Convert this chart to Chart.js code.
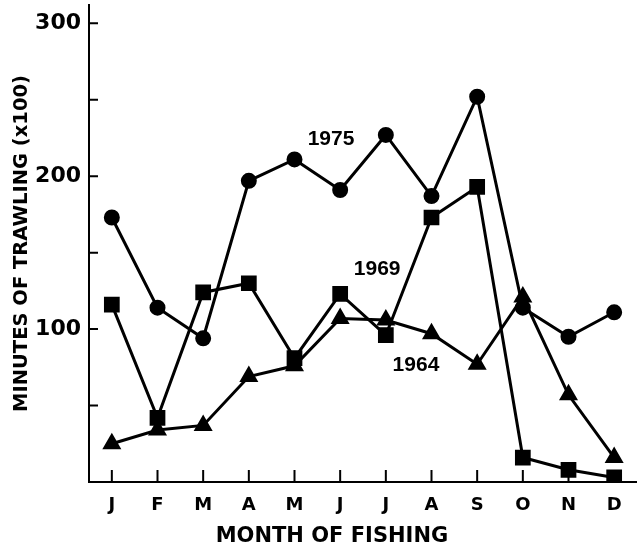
<!DOCTYPE html>
<html>
<head>
  <title>Minutes of Trawling by Month</title>
  <script src="https://cdn.jsdelivr.net/npm/chart.js@4/dist/chart.umd.min.js"></script>
  <style>
    * {
      margin: 0;
      padding: 0;
      box-sizing: border-box;
    }

    body {
      background: #ffffff;
      overflow: hidden;
    }

    .chart-box {
      position: relative;
      width: 637px;
      height: 550px;
    }
  </style>
</head>
<body>
<div class="chart-box">
  <canvas id="trawlChart"></canvas>
</div>

<script>
  // months on the x axis
  const months = ['J', 'F', 'M', 'A', 'M', 'J', 'J', 'A', 'S', 'O', 'N', 'D'];

  // minutes of trawling (x100)
  const year1975 = [173, 114, 94, 197, 211, 191, 227, 187, 252, 114, 95, 111];
  const year1969 = [116, 42, 124, 130, 81, 123, 96, 173, 193, 16, 8, 3];
  const year1964 = [25, 34, 37, 69, 76, 107, 106, 97, 77, 121, 57, 16];

  // y tick marks, and the ones that get a label
  const yTickValues = [50, 100, 150, 200, 250, 300];
  const yTickLabels = [100, 200, 300];

  // year labels, placed in data units (month index, value)
  const yearNotes = [
    { text: '1975', x: 4.80, y: 224 },
    { text: '1969', x: 5.81, y: 139 },
    { text: '1964', x: 6.66, y: 76.5 }
  ];

  const FONT = '"DejaVu Sans", sans-serif';

  // ticks point into the plot, plus the year labels and x title
  const figureExtras = {
    id: 'figureExtras',
    afterDraw(chart) {
      const { ctx, chartArea, scales: { x, y } } = chart;
      ctx.save();
      ctx.strokeStyle = '#000';
      ctx.lineWidth = 2;
      ctx.beginPath();
      yTickValues.forEach(v => {
        const py = y.getPixelForValue(v);
        ctx.moveTo(chartArea.left, py);
        ctx.lineTo(chartArea.left + 9, py);
      });
      months.forEach((m, i) => {
        const px = x.getPixelForValue(i);
        ctx.moveTo(px, chartArea.bottom);
        ctx.lineTo(px, chartArea.bottom - 12);
      });
      ctx.stroke();

      ctx.fillStyle = '#000';
      ctx.textAlign = 'center';
      ctx.textBaseline = 'middle';
      ctx.font = 'bold 21px "Liberation Sans", sans-serif';
      yearNotes.forEach(n => {
        ctx.fillText(n.text, x.getPixelForValue(n.x), y.getPixelForValue(n.y));
      });

      ctx.font = 'bold 21px ' + FONT;
      ctx.fillText('MONTH OF FISHING', x.getPixelForValue(4.82), chartArea.bottom + 55);
      ctx.restore();
    }
  };

  const lineStyle = {
    borderColor: '#000',
    backgroundColor: '#000',
    pointBorderColor: '#000',
    pointBackgroundColor: '#000',
    borderWidth: 3,
    tension: 0,
    fill: false
  };

  new Chart(document.getElementById('trawlChart'), {
    type: 'line',
    data: {
      labels: months,
      datasets: [
        { ...lineStyle, label: '1975', data: year1975, pointStyle: 'circle', pointRadius: 6.5 },
        { ...lineStyle, label: '1969', data: year1969, pointStyle: 'rect', pointRadius: 9 },
        { ...lineStyle, label: '1964', data: year1964, pointStyle: 'triangle', pointRadius: 8 }
      ]
    },
    options: {
      responsive: true,
      maintainAspectRatio: false,
      animation: false,
      layout: {
        autoPadding: false,
        padding: { top: 5, right: 0, bottom: 0, left: 0 }
      },
      plugins: {
        legend: { display: false },
        tooltip: { enabled: false }
      },
      scales: {
        x: {
          offset: true,
          afterFit: scale => {
            scale.height = 68;
            scale.paddingLeft = 0;
            scale.paddingRight = 0;
          },
          grid: { display: false, drawTicks: false },
          border: { display: true, color: '#000', width: 2 },
          ticks: {
            padding: 13,
            color: '#000',
            font: { family: FONT, size: 18, weight: 'bold' }
          }
        },
        y: {
          min: 0,
          max: 312,
          afterFit: scale => {
            scale.width = 89;
            scale.paddingTop = 0;
            scale.paddingBottom = 0;
          },
          afterBuildTicks: scale => {
            scale.ticks = yTickValues.map(v => ({ value: v }));
          },
          grid: { display: false, drawTicks: false },
          border: { display: true, color: '#000', width: 2 },
          ticks: {
            padding: 8,
            color: '#000',
            font: { family: FONT, size: 22, weight: 'bold' },
            callback: v => yTickLabels.includes(v) ? String(v) : ''
          },
          title: {
            display: true,
            text: 'MINUTES OF TRAWLING (x100)',
            color: '#000',
            padding: { top: 10, bottom: 0 },
            font: { family: FONT, size: 19.5, weight: 'bold' }
          }
        }
      }
    },
    plugins: [figureExtras]
  });
</script>
</body>
</html>
